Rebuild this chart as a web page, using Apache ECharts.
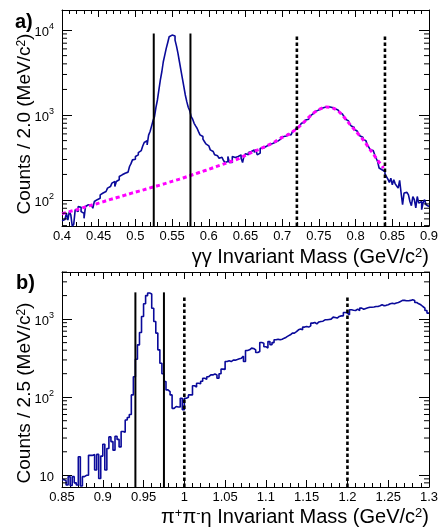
<!DOCTYPE html>
<html>
<head>
<meta charset="utf-8">
<script src="https://cdn.jsdelivr.net/npm/echarts@6/dist/echarts.min.js"></script>
<style>
  html, body { margin: 0; padding: 0; background: #fff; }
  #chart { width: 442px; height: 527px; }
</style>
</head>
<body>
<div id="chart"></div>
<script>
// ---- panel a) : gamma gamma invariant mass, 2 MeV bins ----
const binStartA = 0.4;
const binWidthA = 0.002;
const countsA = [
  57, 59, 56, 70, 58, 73, 67, 49, 52, 77,
  73, 84, 82, 73, 70, 61, 84, 88, 87, 88,
  86, 80, 96, 101, 100, 105, 115, 121, 121, 126,
  130, 138, 144, 151, 158, 165, 144, 165, 173, 189,
  198, 203, 207, 211, 213, 217, 248, 268, 297, 302,
  325, 340, 362, 382, 396, 432, 475, 500, 445, 580,
  640, 740, 860, 957, 1233, 1503, 1972, 2584, 3230, 4235,
  5073, 6077, 7085, 8325, 8716, 8900, 8500, 7600, 6470, 5310,
  4235, 3380, 2705, 2155, 1720, 1436, 1233, 1127, 957, 893,
  800, 745, 700, 638, 584, 558, 520, 488, 458, 434,
  414, 389, 372, 362, 340, 331, 325, 310, 318, 303,
  292, 276, 284, 325, 276, 276, 325, 316, 303, 325,
  318, 340, 310, 276, 331, 350, 340, 362, 372, 382,
  389, 362, 396, 340, 356, 407, 407, 418, 426, 438,
  445, 445, 458, 466, 475, 484, 493, 500, 520, 549,
  558, 549, 568, 584, 600, 584, 610, 638, 668, 680,
  720, 745, 765, 800, 815, 835, 875, 893, 942, 976,
  1030, 1068, 1090, 1127, 1148, 1170, 1203, 1215, 1233, 1245,
  1253, 1253, 1245, 1225, 1203, 1190, 1170, 1148, 1127, 1068,
  1030, 976, 957, 893, 860, 815, 787, 745, 720, 680,
  650, 622, 600, 568, 549, 520, 500, 475, 445, 418,
  389, 382, 362, 340, 310, 284, 238, 227, 222, 217,
  203, 189, 176, 161, 181, 151, 173, 155, 146, 138,
  170, 121, 88, 121, 123, 121, 115, 96, 86, 110,
  101, 81, 110, 92, 96, 77, 93, 101, 88, 84
];
// fitted background + rho shape (magenta dashed)
const fitMassA = [0.40, 0.41, 0.42, 0.43, 0.44, 0.45, 0.46, 0.47, 0.48, 0.49,
  0.50, 0.51, 0.52, 0.53, 0.54, 0.55, 0.56, 0.57, 0.58, 0.59,
  0.60, 0.61, 0.62, 0.63, 0.64, 0.65, 0.66, 0.67, 0.68, 0.69,
  0.70, 0.71, 0.72, 0.73, 0.74, 0.75, 0.76, 0.77, 0.78, 0.79,
  0.80, 0.81, 0.82, 0.83, 0.838];
const fitValA = [69, 73, 77, 82, 87, 92, 98, 104, 110, 117,
  124, 131, 139, 147, 156, 166, 176, 188, 201, 215,
  230, 247, 265, 284, 305, 336, 368, 400, 438, 485,
  545, 600, 695, 830, 1010, 1160, 1245, 1200, 1040, 820,
  650, 515, 390, 295, 238];
const solidCutsA = [0.525, 0.575];
const dashedCutsA = [0.72, 0.84];
const cutTopA = [9100, 8700];   // solid, dashed line heights

// ---- panel b) : pi+ pi- eta invariant mass, 2.5 MeV bins ----
const binStartB = 0.85;
const binWidthB = 0.0025;
const countsB = [
  8.8, 8.5, 7.5, 9.6, 7.4, 9.6, 8.0, 7.5, 17.3, 7.3,
  9.6, 10, 10, 18, 18, 18.5, 11.7, 18.5, 9.1, 17.6,
  25, 11.7, 22, 31, 27, 21, 31.6, 28.8, 23.1, 36.4,
  35.5, 51, 55, 60, 107, 183, 306, 468, 674, 1080,
  1575, 2000, 2155, 2100, 1380, 931, 662, 404, 272, 200,
  159, 124, 118, 107, 72, 76, 75, 75, 97, 69,
  97, 100, 107, 107, 140, 135, 151, 149, 160, 175,
  170, 183, 193, 193, 198, 193, 175, 200, 229, 226,
  286, 292, 286, 298, 298, 303, 310, 316, 335, 286,
  396, 404, 425, 420, 404, 373, 385, 501, 492, 443,
  425, 515, 470, 500, 543, 552, 543, 552, 570, 587,
  610, 629, 662, 662, 690, 729, 745, 729, 790, 805,
  790, 820, 888, 905, 870, 920, 933, 940, 980, 980,
  990, 1000, 1060, 1050, 1030, 1080, 1100, 1100, 1215, 1194,
  1135, 1316, 1300, 1290, 1340, 1290, 1383, 1340, 1370, 1395,
  1420, 1420, 1430, 1450, 1450, 1480, 1525, 1480, 1500, 1525,
  1570, 1600, 1570, 1610, 1633, 1680, 1735, 1735, 1720, 1720,
  1735, 1770, 1735, 1633, 1570, 1525, 1450, 1383, 1290, 1194
];
const solidCutsB = [0.94, 0.975];
const dashedCutsB = [1.0, 1.2];
const cutTopB = [2200, 2000];

// axis ranges
const rangeA = { xmin: 0.4, xmax: 0.9, ymin: 49.5, ymax: 17200 };
const rangeB = { xmin: 0.85, xmax: 1.3, ymin: 7.08, ymax: 4010 };

const FONT = '"Liberation Sans", Arial, Helvetica, sans-serif';
const HIST_COLOR = '#0a0a9a';

const chart = echarts.init(document.getElementById('chart'), null, { renderer: 'canvas' });

// histogram as step line through bin edges
function stepData(start, width, counts) {
  const d = counts.map((c, i) => [+(start + i * width).toFixed(5), c]);
  d.push([+(start + counts.length * width).toFixed(5), counts[counts.length - 1]]);
  return d;
}

function powLabel(v) {
  const e = Math.log10(v);
  const r = Math.round(e);
  if (Math.abs(e - r) > 1e-6) return '';
  return r === 1 ? '{b|10}' : '{b|10}{s|' + r + '}';
}

function xAxisPair(gridIndex, r) {
  const base = {
    type: 'value', gridIndex: gridIndex, min: r.xmin, max: r.xmax, interval: 0.05,
    axisLine: { show: true, onZero: false, lineStyle: { color: '#000', width: 1 } },
    axisTick: { show: true, inside: true, length: 7, lineStyle: { color: '#000' } },
    minorTick: { show: true, splitNumber: 5, length: 4, lineStyle: { color: '#000' } },
    splitLine: { show: false }
  };
  return [
    Object.assign({}, base, {
      position: 'bottom',
      axisLabel: { color: '#000', fontSize: 13, fontFamily: FONT, margin: 4 }
    }),
    Object.assign({}, base, { position: 'top', axisLabel: { show: false } })
  ];
}

function yAxisPair(gridIndex, r) {
  const base = {
    type: 'log', logBase: 10, gridIndex: gridIndex, min: r.ymin, max: r.ymax,
    axisLine: { show: true, onZero: false, lineStyle: { color: '#000', width: 1 } },
    axisTick: { show: true, inside: true, length: 10, lineStyle: { color: '#000' } },
    minorTick: { show: false },
    splitLine: { show: false }
  };
  return [
    Object.assign({}, base, {
      position: 'left',
      axisLabel: {
        formatter: powLabel, margin: 8,
        rich: {
          b: { fontSize: 13, fontFamily: FONT, color: '#000', padding: [4, 0, 0, 0] },
          s: { fontSize: 9, fontFamily: FONT, color: '#000', verticalAlign: 'top' }
        }
      }
    }),
    Object.assign({}, base, { position: 'right', axisLabel: { show: false } })
  ];
}

// minor log ticks (2..9 x 10^n) on both vertical frame sides
function minorLogSeries(xi, yi, r) {
  const vals = [];
  for (let e = Math.floor(Math.log10(r.ymin)); e <= Math.ceil(Math.log10(r.ymax)); e++) {
    for (let m = 2; m <= 9; m++) {
      const v = m * Math.pow(10, e);
      if (v > r.ymin && v < r.ymax) vals.push([r.xmin, v]);
    }
  }
  return {
    type: 'custom', xAxisIndex: xi, yAxisIndex: yi, silent: true, z: 5,
    data: vals,
    renderItem: function (params, api) {
      const left = api.coord([r.xmin, api.value(1)]);
      const right = api.coord([r.xmax, api.value(1)]);
      const st = { stroke: '#000', lineWidth: 1 };
      return {
        type: 'group',
        children: [
          { type: 'line', shape: { x1: left[0], y1: left[1], x2: left[0] + 5, y2: left[1] }, style: st },
          { type: 'line', shape: { x1: right[0], y1: right[1], x2: right[0] - 5, y2: right[1] }, style: st }
        ]
      };
    }
  };
}

function cutSeries(xi, yi, xs, ymin, ytop, dashed) {
  return xs.map(x => ({
    type: 'line', xAxisIndex: xi, yAxisIndex: yi, symbol: 'none', silent: true, z: 4,
    data: [[x, ymin], [x, ytop]],
    lineStyle: dashed
      ? { color: '#000', width: 2.6, type: [3.5, 2.5] }
      : { color: '#000', width: 2 }
  }));
}

const titleRich = {
  t: { fontSize: 20, fontFamily: FONT, color: '#000' },
  s: { fontSize: 13, fontFamily: FONT, color: '#000', verticalAlign: 'top' }
};
const yTitleRich = {
  t: { fontSize: 19, fontFamily: FONT, color: '#000' },
  s: { fontSize: 12, fontFamily: FONT, color: '#000', verticalAlign: 'top' }
};

const option = {
  animation: false,
  backgroundColor: '#fff',
  grid: [
    { left: 62, right: 13, top: 10, height: 216 },
    { left: 62, right: 13, top: 272, height: 215 }
  ],
  xAxis: [].concat(xAxisPair(0, rangeA), xAxisPair(1, rangeB)),
  yAxis: [].concat(yAxisPair(0, rangeA), yAxisPair(1, rangeB)),
  series: [
    {
      type: 'line', xAxisIndex: 0, yAxisIndex: 0, step: 'end', symbol: 'none',
      data: stepData(binStartA, binWidthA, countsA),
      lineStyle: { color: HIST_COLOR, width: 1.6 }, z: 2
    },
    {
      type: 'line', xAxisIndex: 0, yAxisIndex: 0, symbol: 'none', smooth: 0.3,
      data: fitMassA.map((m, i) => [m, fitValA[i]]),
      lineStyle: { color: '#ff00ff', width: 3, type: [4, 3] }, z: 3
    },
    ...cutSeries(0, 0, solidCutsA, rangeA.ymin, cutTopA[0], false),
    ...cutSeries(0, 0, dashedCutsA, rangeA.ymin, cutTopA[1], true),
    minorLogSeries(0, 0, rangeA),
    {
      type: 'line', xAxisIndex: 2, yAxisIndex: 2, step: 'end', symbol: 'none',
      data: stepData(binStartB, binWidthB, countsB),
      lineStyle: { color: HIST_COLOR, width: 1.6 }, z: 2
    },
    ...cutSeries(2, 2, solidCutsB, rangeB.ymin, cutTopB[0], false),
    ...cutSeries(2, 2, dashedCutsB, rangeB.ymin, cutTopB[1], true),
    minorLogSeries(2, 2, rangeB)
  ],
  graphic: [
    { type: 'text', x: 15, y: 22, style: { text: 'a)', font: 'bold 20px ' + FONT, fill: '#000', align: 'left', verticalAlign: 'middle' } },
    { type: 'text', x: 16, y: 283, style: { text: 'b)', font: 'bold 20px ' + FONT, fill: '#000', align: 'left', verticalAlign: 'middle' } },
    { type: 'text', x: 25, y: 124, rotation: Math.PI / 2,
      style: { text: '{t|Counts / 2.0 (MeV/c}{s|2}{t|)}', rich: yTitleRich, align: 'center', verticalAlign: 'middle' } },
    { type: 'text', x: 25, y: 393, rotation: Math.PI / 2,
      style: { text: '{t|Counts / 2.5 (MeV/c}{s|2}{t|)}', rich: yTitleRich, align: 'center', verticalAlign: 'middle' } },
    { type: 'text', x: 429, y: 257,
      style: { text: '{t|γγ Invariant Mass (GeV/c}{s|2}{t|)}', rich: titleRich, align: 'right', verticalAlign: 'middle' } },
    { type: 'text', x: 429, y: 517,
      style: { text: '{t|π}{s|+}{t|π}{s|-}{t|η Invariant Mass (GeV/c}{s|2}{t|)}', rich: titleRich, align: 'right', verticalAlign: 'middle' } }
  ]
};

chart.setOption(option);
</script>
</body>
</html>
